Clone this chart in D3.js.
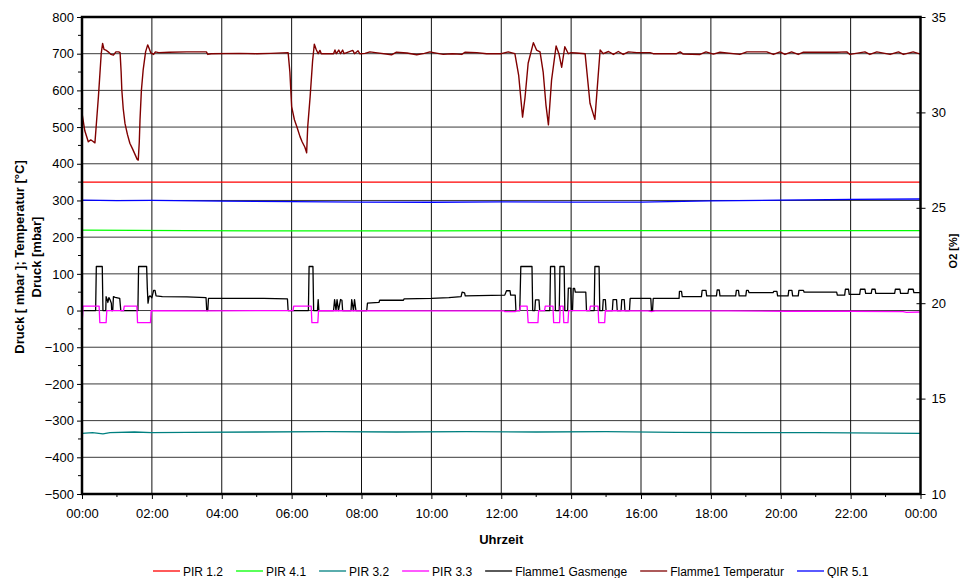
<!DOCTYPE html>
<html>
<head>
<meta charset="utf-8">
<script src="https://cdn.jsdelivr.net/npm/d3@7"></script>
<style>
  body { margin: 0; background: #fff; }
  svg text { font-family: "Liberation Sans", Arial, sans-serif; fill: #000; }
</style>
</head>
<body>
<svg id="chart" width="962" height="578"></svg>
<script>
// ---- axis ticks -------------------------------------------------------
const hourTicks = [0, 2, 4, 6, 8, 10, 12, 14, 16, 18, 20, 22, 24];
const hourLabels = ["00:00", "02:00", "04:00", "06:00", "08:00", "10:00", "12:00",
                    "14:00", "16:00", "18:00", "20:00", "22:00", "00:00"];
const leftTicks = [-500, -400, -300, -200, -100, 0, 100, 200, 300, 400, 500, 600, 700, 800];
const rightTicks = [10, 15, 20, 25, 30, 35];

// ---- series: [hour of day, value] ------------------------------------
const pir12 = [[0, 350], [6, 350], [12, 350], [18, 350], [24, 350]];
const pir41 = [[0, 219], [3, 218], [6, 217], [10, 217], [14, 218], [18, 218], [24, 218]];
const pir32 = [[0, -335], [0.3, -333], [0.6, -336], [0.8, -333], [1.5, -331], [2, -333],
               [3, -332], [5, -331], [7, -330], [9, -331], [11, -330], [13, -331],
               [15, -330], [17, -332], [19, -333], [21, -333], [23, -334], [24, -335]];
const pir33 = [[0, -33], [0.02, -10], [0.03, 12], [0.49, 12], [0.51, -33], [0.69, -33],
               [0.71, 0], [1.19, 0], [1.21, 12], [1.57, 12], [1.59, -33], [1.96, -33],
               [1.98, 0], [3.5, -1], [6.04, 0], [6.06, 12], [6.56, 12], [6.58, -33],
               [6.75, -33], [6.77, 0], [9.5, -1], [12.08, -1], [12.1, -3], [12.4, -3],
               [12.45, 0], [12.53, 0], [12.55, 12], [12.74, 12], [12.77, -33], [13.05, -33],
               [13.07, 0], [13.24, 0], [13.26, 12], [13.48, 12], [13.5, -33], [13.67, -33],
               [13.69, 12], [13.77, 12], [13.79, -33], [13.91, -33], [13.93, 0], [14.53, 0],
               [14.55, 12], [14.77, 12], [14.79, -33], [14.96, -33], [14.98, 0], [16.2, -1],
               [16.3, -3], [16.4, -1], [18.5, -1], [20.2, -2], [22, -2], [23.5, -3],
               [23.6, -5], [24, -4]];
const gasmenge = [[0, 0], [0.39, 0], [0.41, 120], [0.58, 120], [0.60, 0], [0.68, 0],
                  [0.69, 38], [0.72, 30], [0.74, 22], [0.77, 35], [0.80, 30], [0.84, 20],
                  [0.85, 0], [0.88, 0], [0.90, 38], [0.95, 36], [1.08, 33], [1.11, 0],
                  [1.60, 0], [1.62, 120], [1.85, 120], [1.87, 60], [1.89, 20], [1.92, 38],
                  [1.95, 40], [2.0, 35], [2.05, 55], [2.09, 55], [2.12, 40], [2.3, 38],
                  [3.0, 37], [3.55, 35], [3.57, 0], [3.60, 0], [3.62, 33], [4.5, 33],
                  [5.2, 33], [5.88, 32], [5.90, 0], [6.48, 0], [6.50, 120], [6.61, 120],
                  [6.63, 0], [6.74, 0], [6.76, 30], [6.78, 0], [7.20, 0], [7.23, 30],
                  [7.27, 0], [7.30, 30], [7.34, 0], [7.40, 30], [7.44, 28], [7.46, 0],
                  [7.70, 0], [7.72, 30], [7.77, 0], [7.80, 30], [7.84, 0], [8.15, 0],
                  [8.17, 20], [8.5, 22], [8.52, 28], [9.2, 28], [9.22, 32], [10.0, 33],
                  [10.5, 35], [10.85, 38], [10.88, 50], [10.95, 48], [10.97, 40],
                  [12.1, 42], [12.15, 54], [12.25, 54], [12.27, 42], [12.40, 42],
                  [12.42, 0], [12.53, 0], [12.56, 120], [12.88, 120], [12.90, 0],
                  [12.96, 0], [12.98, 29], [13.08, 29], [13.10, 0], [13.39, 0],
                  [13.41, 120], [13.53, 120], [13.55, 0], [13.66, 0], [13.68, 120],
                  [13.80, 120], [13.82, 0], [13.90, 0], [13.92, 61], [13.99, 61],
                  [14.01, 0], [14.04, 0], [14.06, 60], [14.10, 60], [14.12, 50],
                  [14.42, 50], [14.44, 0], [14.66, 0], [14.68, 120], [14.80, 120],
                  [14.82, 0], [14.90, 0], [14.92, 30], [14.98, 30], [15.00, 0],
                  [15.18, 0], [15.20, 30], [15.30, 30], [15.32, 0], [15.43, 0],
                  [15.45, 30], [15.52, 30], [15.54, 0], [15.67, 0], [15.69, 33],
                  [16.28, 33], [16.30, 0], [16.33, 0], [16.35, 33], [17.09, 33],
                  [17.10, 52], [17.16, 52], [17.18, 38], [17.73, 38], [17.75, 55],
                  [17.86, 55], [17.88, 40], [18.16, 40], [18.18, 56], [18.24, 56],
                  [18.26, 40], [18.71, 40], [18.73, 55], [18.79, 55], [18.81, 40],
                  [19.00, 40], [19.02, 55], [19.07, 55], [19.09, 49], [19.78, 49],
                  [19.80, 52], [19.89, 52], [19.91, 40], [20.21, 40], [20.23, 55],
                  [20.32, 55], [20.34, 40], [20.50, 40], [20.52, 55], [20.65, 55],
                  [20.67, 50], [21.60, 50], [21.62, 42], [21.83, 42], [21.85, 58],
                  [21.94, 58], [21.96, 44], [22.26, 44], [22.28, 58], [22.41, 58],
                  [22.43, 47], [22.59, 47], [22.61, 58], [22.70, 58], [22.72, 47],
                  [23.26, 47], [23.28, 58], [23.41, 58], [23.43, 47], [23.64, 47],
                  [23.66, 58], [23.79, 58], [23.81, 49], [24, 49]];
const temperatur = [[0, 538], [0.08, 490], [0.18, 460], [0.25, 465], [0.30, 462],
                    [0.37, 457], [0.42, 520], [0.47, 583], [0.55, 700], [0.59, 728],
                    [0.63, 712], [0.68, 710], [0.75, 705], [0.83, 698], [0.90, 696],
                    [0.97, 705], [1.05, 705], [1.09, 703], [1.12, 650], [1.14, 601],
                    [1.18, 550], [1.23, 510], [1.30, 480], [1.37, 456], [1.45, 440],
                    [1.52, 425], [1.58, 412], [1.61, 410], [1.64, 460], [1.66, 519],
                    [1.70, 600], [1.75, 655], [1.82, 705], [1.88, 724], [1.92, 715],
                    [1.97, 702], [2.0, 701], [2.05, 698], [2.1, 705], [2.2, 703],
                    [2.5, 704], [3.0, 705], [3.56, 705], [3.60, 698], [3.7, 700],
                    [4.5, 701], [5.0, 700], [5.4, 701], [5.9, 703], [5.95, 650],
                    [6.0, 556], [6.08, 520], [6.15, 501], [6.24, 474], [6.30, 460],
                    [6.38, 445], [6.43, 430], [6.46, 500], [6.53, 583], [6.60, 680],
                    [6.65, 726], [6.70, 712], [6.76, 700], [6.81, 709], [6.85, 700],
                    [7.2, 700], [7.24, 710], [7.28, 700], [7.35, 710], [7.40, 700],
                    [7.46, 710], [7.50, 700], [7.75, 709], [7.80, 700], [7.90, 708],
                    [7.95, 700], [8.1, 701], [8.24, 705], [8.4, 703], [8.86, 697],
                    [9.0, 704], [9.3, 702], [9.58, 697], [9.8, 701], [9.96, 705],
                    [10.06, 703], [10.34, 698], [10.6, 700], [10.87, 698], [10.96, 704],
                    [11.3, 703], [11.58, 700], [12.0, 700], [12.2, 705], [12.39, 700],
                    [12.5, 640], [12.61, 527], [12.68, 580], [12.77, 674], [12.92, 730],
                    [13.01, 710], [13.11, 705], [13.2, 650], [13.28, 560], [13.35, 506],
                    [13.44, 628], [13.57, 721], [13.65, 700], [13.73, 663], [13.82, 719],
                    [13.92, 700], [14.0, 703], [14.15, 702], [14.4, 700], [14.54, 565],
                    [14.68, 521], [14.83, 710], [14.92, 700], [15.07, 706], [15.21, 698],
                    [15.35, 706], [15.49, 698], [15.64, 705], [15.88, 703], [16.26, 703],
                    [16.35, 700], [17.02, 700], [17.12, 705], [17.21, 699], [17.69, 698],
                    [17.86, 705], [18.07, 699], [18.26, 704], [18.83, 698], [19.03, 705],
                    [19.6, 705], [19.79, 698], [19.98, 705], [20.12, 698], [20.31, 705],
                    [20.5, 698], [20.65, 704], [21.6, 704], [21.89, 705], [21.98, 698],
                    [22.41, 705], [22.55, 698], [22.75, 705], [23.13, 698], [23.37, 705],
                    [23.51, 698], [23.79, 705], [24, 699]];
const qir51 = [[0, 25.40], [1, 25.38], [2, 25.39], [4, 25.35], [6, 25.32], [8, 25.30],
               [10, 25.29], [12, 25.31], [14, 25.30], [16, 25.30], [18, 25.36],
               [20, 25.40], [22, 25.44], [24, 25.46]];

const seriesNames = ["PIR 1.2", "PIR 4.1", "PIR 3.2", "PIR 3.3", "Flamme1 Gasmenge",
                     "Flamme1 Temperatur", "QIR 5.1"];
const seriesColors = ["#ff0000", "#00ff00", "#008080", "#ff00ff", "#000000", "#800000", "#0000ff"];

// ---- layout -----------------------------------------------------------
const svg = d3.select("#chart");
const plot = { left: 82, right: 920.5, top: 17, bottom: 494 };

const x = d3.scaleLinear().domain([0, 24]).range([plot.left, plot.right]);
const yL = d3.scaleLinear().domain([-500, 800]).range([plot.bottom, plot.top]);
const yR = d3.scaleLinear().domain([10, 35]).range([plot.bottom, plot.top]);

// grid
const grid = svg.append("g");
grid.selectAll("line.h").data(leftTicks).join("line")
  .attr("x1", plot.left).attr("x2", plot.right)
  .attr("y1", d => yL(d)).attr("y2", d => yL(d))
  .attr("stroke", "#3a3a3a").attr("stroke-width", 1);
grid.selectAll("line.v").data(hourTicks).join("line")
  .attr("y1", plot.top).attr("y2", plot.bottom)
  .attr("x1", d => x(d)).attr("x2", d => x(d))
  .attr("stroke", "#111").attr("stroke-width", 1);

// series lines
const line = (ys) => d3.line().x(d => x(d[0])).y(d => ys(d[1]));
const drawOrder = [
  [pir12, yL, 0], [pir41, yL, 1], [pir32, yL, 2], [gasmenge, yL, 4],
  [pir33, yL, 3], [qir51, yR, 6], [temperatur, yL, 5]
];
const lines = svg.append("g").attr("fill", "none");
drawOrder.forEach(([data, ys, i]) => {
  lines.append("path").datum(data)
    .attr("d", line(ys))
    .attr("stroke", seriesColors[i])
    .attr("stroke-width", i === 5 ? 1.4 : 1.3)
    .attr("stroke-linejoin", "round");
});

// frame
svg.append("rect")
  .attr("x", plot.left).attr("y", plot.top)
  .attr("width", plot.right - plot.left).attr("height", plot.bottom - plot.top)
  .attr("fill", "none").attr("stroke", "#000").attr("stroke-width", 2.5);

// left axis
const leftAxis = d3.axisLeft(yL).tickValues(leftTicks).tickSize(5).tickPadding(3)
  .tickFormat(d3.format("d"));
const gL = svg.append("g").attr("transform", `translate(${plot.left},0)`).call(leftAxis);
gL.select(".domain").remove();
gL.selectAll("text").style("font-size", "13px");
const leftMinor = d3.range(-450, 800, 100);
svg.append("g").selectAll("line").data(leftMinor).join("line")
  .attr("x1", plot.left - 4).attr("x2", plot.left)
  .attr("y1", d => yL(d)).attr("y2", d => yL(d))
  .attr("stroke", "#000");

// bottom axis
const bottomAxis = d3.axisBottom(x).tickValues(hourTicks).tickSize(5).tickPadding(10)
  .tickFormat((d, i) => hourLabels[i]);
const gB = svg.append("g").attr("transform", `translate(0,${plot.bottom})`).call(bottomAxis);
gB.select(".domain").remove();
gB.selectAll("text").style("font-size", "13px");
svg.append("g").selectAll("line").data(d3.range(1, 24, 2)).join("line")
  .attr("x1", d => x(d)).attr("x2", d => x(d))
  .attr("y1", plot.bottom).attr("y2", plot.bottom + 3)
  .attr("stroke", "#000");

// right axis
const rightAxis = d3.axisRight(yR).tickValues(rightTicks).tickSize(5).tickPadding(6);
const gR = svg.append("g").attr("transform", `translate(${plot.right},0)`).call(rightAxis);
gR.select(".domain").remove();
gR.selectAll("text").style("font-size", "13px");
gR.selectAll(".tick line").attr("x1", -4);

// axis titles
const titleL = svg.append("text")
  .attr("transform", `translate(24,257) rotate(-90)`)
  .attr("text-anchor", "middle").style("font-size", "13px").style("font-weight", "bold");
titleL.append("tspan").attr("x", 0).attr("dy", 0).text("Druck [ mbar ]; Temperatur [°C]");
titleL.append("tspan").attr("x", 0).attr("dy", 17).text("Druck [mbar]");

svg.append("text")
  .attr("x", (plot.left + plot.right) / 2).attr("y", 544)
  .attr("text-anchor", "middle").style("font-size", "13px").style("font-weight", "bold")
  .text("Uhrzeit");

svg.append("text")
  .attr("transform", `translate(957,251) rotate(-90)`)
  .attr("text-anchor", "middle").style("font-size", "11px").style("font-weight", "bold")
  .text("O2 [%]");

// legend
const legend = svg.append("g").attr("transform", "translate(153,571)");
let lx = 0;
seriesNames.forEach((name, i) => {
  legend.append("line").attr("x1", lx).attr("x2", lx + 27).attr("y1", 0).attr("y2", 0)
    .attr("stroke", seriesColors[i]).attr("stroke-width", 1.3);
  const t = legend.append("text").attr("x", lx + 30).attr("y", 4.5)
    .style("font-size", "12px").text(name);
  lx += 30 + t.node().getComputedTextLength() + 13;
});
</script>
</body>
</html>
